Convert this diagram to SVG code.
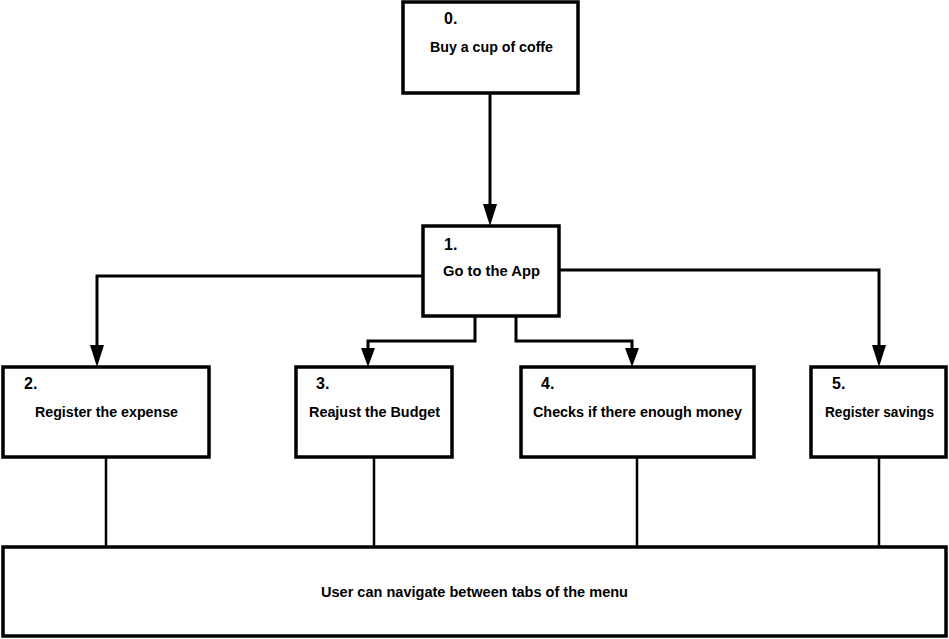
<svg xmlns="http://www.w3.org/2000/svg" width="949" height="639" viewBox="0 0 949 639">
<defs>
<style>
.box{fill:#fff;stroke:#000;stroke-width:3.5}
.num{font-family:"Liberation Sans",Arial,sans-serif;font-weight:bold;font-size:16px;fill:#000}
.lbl{font-family:"Liberation Sans",Arial,sans-serif;font-weight:bold;font-size:14px;fill:#000}
.ln{fill:none;stroke:#000;stroke-width:3}
.thin{fill:none;stroke:#000;stroke-width:2.5}
</style>
</defs>
<rect width="949" height="639" fill="#fff"/>
<g id="connectors">
<path class="ln" d="M490,93 V205"/>
<path d="M483,204 L497,204 L490,226 Z"/>
<path class="ln" d="M423,276 H97 V345"/>
<path d="M90,345 L104,345 L97,367 Z"/>
<path class="ln" d="M559,270 H879 V345"/>
<path d="M872,345 L886,345 L879,367 Z"/>
<path class="ln" d="M475,316 V341 H368 V350"/>
<path d="M361,348 L375,348 L368,367 Z"/>
<path class="ln" d="M516,316 V341 H632 V350"/>
<path d="M625,348 L639,348 L632,367 Z"/>
<path class="thin" d="M106,457 V547 M374,457 V547 M637,457 V547 M879,457 V547"/>
</g>
<g id="node0">
<rect class="box" x="403" y="2" width="175" height="91"/>
<text class="num" x="444" y="24">0.</text>
<text class="lbl" x="430" y="52" textLength="123" lengthAdjust="spacingAndGlyphs">Buy a cup of coffe</text>
</g>
<g id="node1">
<rect class="box" x="423" y="226" width="136" height="90"/>
<text class="num" x="444" y="250">1.</text>
<text class="lbl" x="443" y="276" textLength="97" lengthAdjust="spacingAndGlyphs">Go to the App</text>
</g>
<g id="node2">
<rect class="box" x="3" y="367" width="206" height="90"/>
<text class="num" x="24" y="389">2.</text>
<text class="lbl" x="35" y="417" textLength="143" lengthAdjust="spacingAndGlyphs">Register the expense</text>
</g>
<g id="node3">
<rect class="box" x="296" y="367" width="156" height="90"/>
<text class="num" x="316" y="389">3.</text>
<text class="lbl" x="309" y="417" textLength="131" lengthAdjust="spacingAndGlyphs">Reajust the Budget</text>
</g>
<g id="node4">
<rect class="box" x="521" y="367" width="233" height="90"/>
<text class="num" x="541" y="389">4.</text>
<text class="lbl" x="533" y="417" textLength="209" lengthAdjust="spacingAndGlyphs">Checks if there enough money</text>
</g>
<g id="node5">
<rect class="box" x="811" y="367" width="135" height="90"/>
<text class="num" x="832" y="389">5.</text>
<text class="lbl" x="825" y="417" textLength="109" lengthAdjust="spacingAndGlyphs">Register savings</text>
</g>
<g id="node6">
<rect class="box" x="3" y="547" width="943" height="89"/>
<text class="lbl" x="321" y="597" textLength="307" lengthAdjust="spacingAndGlyphs">User can navigate between tabs of the menu</text>
</g>
</svg>
